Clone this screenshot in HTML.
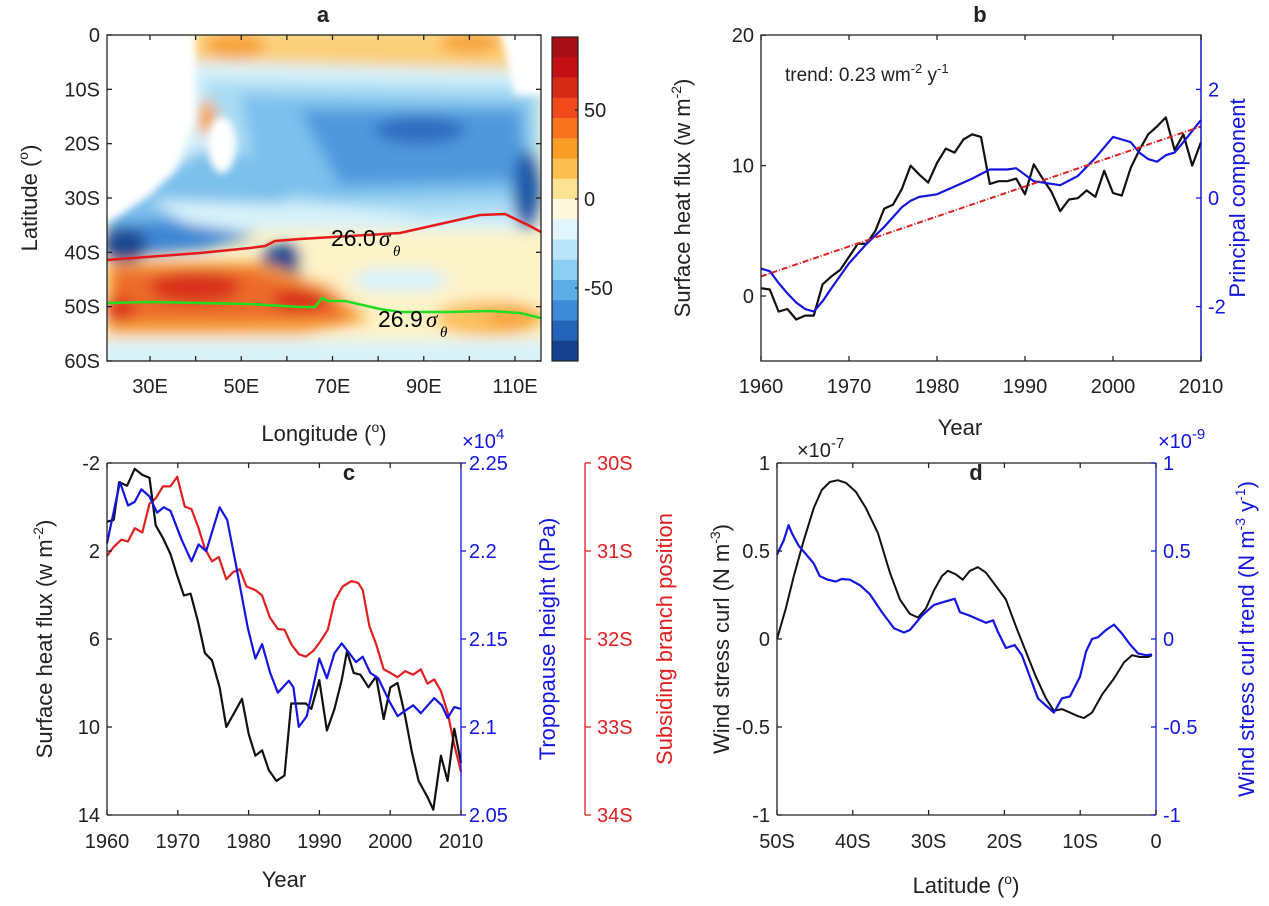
<!DOCTYPE html>
<html><head><meta charset="utf-8"><style>
body{margin:0;background:#fff}
svg{display:block;font-family:"Liberation Sans",Arial,sans-serif}
</style></head><body>
<svg id="s" width="1269" height="906" viewBox="0 0 1269 906" xmlns="http://www.w3.org/2000/svg">
<defs>
<clipPath id="ca"><rect x="107" y="35" width="434" height="326"/></clipPath>
<filter id="bl" x="-20%" y="-20%" width="140%" height="140%"><feGaussianBlur stdDeviation="7"/></filter>
<filter id="bl2" x="-20%" y="-20%" width="140%" height="140%"><feGaussianBlur stdDeviation="4"/></filter>
</defs>
<g clip-path="url(#ca)">
<rect x="107" y="35" width="434" height="326" fill="#fdf3c8"/>
<g filter="url(#bl)">
<rect x="190" y="30" width="330" height="45" fill="#fbcf78"/>
<ellipse cx="235" cy="45" rx="30" ry="14" fill="#f7a43c"/>
<ellipse cx="470" cy="42" rx="30" ry="12" fill="#f7a43c"/>
<path d="M150,60 L541,70 L541,230 L107,230 Z" fill="#d8f2fa"/>
<path d="M200,80 L541,85 L541,215 L330,220 L250,215 Z" fill="#a9dcf3"/>
<path d="M107,210 L200,150 L300,160 L280,215 L107,245 Z" fill="#7cc0ec"/>
<path d="M240,95 L530,100 L530,195 L330,200 L260,190 Z" fill="#7cc0ec"/>
<path d="M300,110 L520,110 L525,180 L340,185 Z" fill="#4f98dc"/>
<ellipse cx="420" cy="130" rx="45" ry="14" fill="#2d6cc0"/>
<ellipse cx="527" cy="190" rx="14" ry="40" fill="#1f58a8"/>
<path d="M150,200 L320,205 L420,215 L300,228 L200,232 Z" fill="#d8f2fa"/>
<path d="M107,225 L160,220 L260,235 L200,250 L107,258 Z" fill="#3d86d2"/>
<ellipse cx="125" cy="245" rx="22" ry="18" fill="#1a4890"/>
<ellipse cx="285" cy="262" rx="24" ry="18" fill="#1a4890"/>
<rect x="300" y="240" width="241" height="60" fill="#fdf3c8"/>
<ellipse cx="400" cy="280" rx="50" ry="12" fill="#d8f2fa"/>
<path d="M107,262 L260,262 L330,285 L370,320 L300,335 L107,335 Z" fill="#f7a43c"/>
<path d="M115,270 L250,268 L330,295 L350,320 L107,322 Z" fill="#ec6a2a"/>
<ellipse cx="195" cy="287" rx="45" ry="16" fill="#d8301e"/>
<ellipse cx="300" cy="300" rx="28" ry="12" fill="#d8301e"/>
<ellipse cx="120" cy="310" rx="15" ry="12" fill="#d8301e"/>
<ellipse cx="490" cy="318" rx="55" ry="18" fill="#fbbf5e"/>
<ellipse cx="510" cy="318" rx="25" ry="10" fill="#f7a43c"/>
<rect x="100" y="340" width="450" height="30" fill="#d8f2fa"/>
<ellipse cx="207" cy="118" rx="10" ry="18" fill="#f7a43c"/>
</g>
<g filter="url(#bl2)">
<path d="M100,30 L195,30 L195,120 L175,170 L150,195 L120,215 L100,225 Z" fill="#fff"/>
<ellipse cx="222" cy="145" rx="14" ry="28" fill="#fff"/>
<path d="M500,30 L545,30 L545,95 L515,95 Z" fill="#fff"/>
</g>
<polyline fill="none" stroke="#e41a1c" stroke-width="2.5" points="107,260 160,256 200,253 250,248 265,246 275,241 300,239 350,236 400,233 440,224 480,215 505,214 530,226 541,232"/>
<polyline fill="none" stroke="#22dd22" stroke-width="2.5" points="107,303 150,302 200,303 250,304 300,307 315,307 322,298 328,301 345,301 380,309 400,312 450,312 490,311 520,313 541,318"/>
</g>
<text x="331" y="246" font-size="23">26.0</text><text x="379" y="246" font-size="23" font-style="italic" font-family="Liberation Serif">σ</text><text x="393" y="256" font-size="15" font-style="italic" font-family="Liberation Serif">θ</text>
<text x="378" y="327" font-size="23">26.9</text><text x="426" y="327" font-size="23" font-style="italic" font-family="Liberation Serif">σ</text><text x="440" y="337" font-size="15" font-style="italic" font-family="Liberation Serif">θ</text>
<rect x="107" y="35" width="434" height="326" fill="none" stroke="#222" stroke-width="1.3"/>
<g id="cb"></g>
<g id="g"></g>
</svg>
<script>
var S=document.getElementById('g'),NS='http://www.w3.org/2000/svg';
var TF=20,LF=22;
function el(t,a,txt){var e=document.createElementNS(NS,t);for(var k in a)e.setAttribute(k,a[k]);if(txt!==undefined)e.textContent=txt;S.appendChild(e);return e;}
function line(x1,y1,x2,y2,c,w){return el('line',{x1:x1,y1:y1,x2:x2,y2:y2,stroke:c||'#222','stroke-width':w||1.3});}
function txt(x,y,s,o){o=o||{};var a={x:x,y:y,'font-size':o.fs||TF,fill:o.c||'#222','text-anchor':o.a||'middle'};if(o.b)a['font-weight']='bold';if(o.r)a.transform='rotate(-90 '+x+' '+y+')';return el('text',a,s);}
function rich(x,y,parts,o){o=o||{};var a={x:x,y:y,'font-size':o.fs||LF,fill:o.c||'#222','text-anchor':'middle'};if(o.r)a.transform='rotate(-90 '+x+' '+y+')';var t=el('text',a);parts.forEach(function(p){var s=document.createElementNS(NS,'tspan');s.textContent=p[0];if(p[1]){s.setAttribute('dy',p[1]);}if(p[2])s.setAttribute('font-size',p[2]);t.appendChild(s);});return t;}
function pl(pts,c,w,extra){var a={points:pts.map(function(p){return p[0].toFixed(1)+','+p[1].toFixed(1)}).join(' '),fill:'none',stroke:c,'stroke-width':w||2.2,'stroke-linejoin':'round'};for(var k in extra)a[k]=extra[k];el('polyline',a);}
var cols=['#a50f15','#c40f15','#d62a17','#f04a1c','#f7731e','#f99d26','#fbbf4f','#fde294','#fff8dc','#e0f6fc','#b8e6f8','#8ccff3','#5eaee6','#3d8ad6','#2464b8','#163f8c'];
var cb=document.getElementById('cb');
for(var i=0;i<16;i++){var r=document.createElementNS(NS,'rect');r.setAttribute('x',552);r.setAttribute('y',37+i*324/16);r.setAttribute('width',26);r.setAttribute('height',324/16+0.5);r.setAttribute('fill',cols[i]);cb.appendChild(r);}
el('rect',{x:552,y:37,width:26,height:324,fill:'none',stroke:'#222','stroke-width':1.2});
[[50,110],[0,199],[-50,288]].forEach(function(t){line(575,t[1],578,t[1]);txt(584,t[1]+7,String(t[0]),{a:'start'});});
var ya=function(l){return 35+l*5.433};
['0','10S','20S','30S','40S','50S','60S'].forEach(function(s,i){var y=ya(i*10);line(107,y,112,y);line(541,y,536,y);txt(100,y+7,s,{a:'end'});});
for(var lon=30;lon<=110;lon+=10){var x=150+4.5625*(lon-30);line(x,361,x,356);line(x,35,x,40);if(lon%20==10)txt(x,393,lon+'E');}
txt(323,22,'a',{b:1,fs:22});
rich(324,441,[['Longitude ('],['o','-9',14],[')','9']]);
rich(37,198,[['Latitude ('],['o','-9',14],[')','9']],{r:1});
var xb=function(y){return 761+8.8*(y-1960)},yb=function(v){return 296-13.04*v};
var bk=[0.6,0.5,-1.2,-1.0,-1.8,-1.5,-1.5,0.9,1.5,2.0,3.0,4.0,4.0,5.0,6.7,7.0,8.2,10.0,9.3,8.7,10.2,11.3,11.0,12.0,12.4,12.2,8.6,8.8,8.8,9.0,7.8,10.1,9.0,8.0,6.5,7.4,7.5,8.1,7.6,9.6,7.9,7.7,9.8,11.2,12.4,13.0,13.7,11.2,12.4,10.0,11.8];
pl(bk.map(function(v,i){return [xb(1960+i),yb(v)]}),'#111');
var bb=[[1960,2.1],[1961,1.9],[1962,1.0],[1963,0.2],[1964,-0.5],[1965,-1.0],[1966,-1.2],[1967,-0.4],[1968,0.6],[1970,2.5],[1972,4.0],[1974,5.3],[1976,6.8],[1977,7.3],[1978,7.6],[1980,7.8],[1982,8.4],[1984,9.0],[1986,9.7],[1988,9.7],[1989,9.8],[1990,9.3],[1991,8.8],[1992,8.7],[1994,8.5],[1996,9.2],[1998,10.6],[2000,12.2],[2001,12.0],[2002,11.8],[2003,11.0],[2004,10.5],[2005,10.3],[2006,10.8],[2007,11.0],[2008,11.8],[2010,13.5]];
pl(bb.map(function(p){return [xb(p[0]),yb(p[1])]}),'#1515e0');
line(xb(1960),yb(1.5),xb(2010),yb(13.0),'#e02020',2).setAttribute('stroke-dasharray','6,2,1,2');
el('rect',{x:761,y:35,width:440,height:326,fill:'none',stroke:'#222','stroke-width':1.3});
line(1201,35,1201,361,'#1515e0',1.3);
[[20],[10],[0]].forEach(function(t){var y=yb(t[0]);line(761,y,766,y);txt(754,y+7,String(t[0]),{a:'end'});});
[[2],[0],[-2]].forEach(function(t){var y=198-54.3*t[0];line(1201,y,1196,y,'#1515e0');txt(1208,y+7,String(t[0]),{a:'start',c:'#1515e0'});});
for(var yr=1960;yr<=2010;yr+=10){var x=xb(yr);line(x,361,x,356);line(x,35,x,40);txt(x,393,String(yr));}
txt(980,22,'b',{b:1,fs:22});
txt(960,435,'Year',{fs:LF});
rich(785,81,[['trend: 0.23 wm'],['-2','-8',13],[' y','8'],['-1','-8',13]],{fs:19}).setAttribute('text-anchor','start');
rich(690,198,[['Surface heat flux (w m'],['-2','-9',14],[')','9']],{r:1});
rich(1245,198,[['Principal component']],{r:1,c:'#1515e0'});
function zc(p){return [107+(p[0]-243)*0.447,463+(p[1]-117)*0.36];}
var cr=[[243,375],[258,350],[275,330],[290,335],[305,298],[322,310],[338,230],[352,215],[368,182],[385,182],[400,155],[417,238],[432,245],[447,295],[462,355],[478,390],[493,378],[510,440],[525,420],[540,412],[555,460],[575,470],[590,485],[607,545],[625,578],[640,580],[655,620],[672,648],[688,655],[705,638],[720,613],[737,580],[752,500],[770,460],[790,445],[805,450],[815,470],[830,570],[845,620],[862,690],[877,700],[893,712],[910,695],[928,705],[945,690],[960,730],[975,718],[990,750],[1005,810],[1020,900],[1035,975]];
var cbk=[[243,280],[258,275],[270,170],[288,180],[305,133],[322,150],[338,158],[352,290],[368,325],[385,370],[400,430],[415,485],[430,480],[447,560],[462,645],[478,665],[495,740],[510,850],[528,810],[545,772],[560,870],[575,930],[590,915],[605,970],[622,1000],[640,985],[655,785],[670,785],[688,785],[700,800],[718,720],[735,860],[752,800],[768,720],[780,640],[795,700],[810,705],[828,740],[845,710],[862,828],[877,740],[893,728],[910,820],[925,920],[940,1000],[960,1045],[973,1080],[990,930],[1005,1000],[1020,855],[1035,950]];
var cbl=[[243,340],[272,170],[290,235],[305,225],[320,190],[338,210],[355,255],[370,240],[385,250],[410,330],[432,390],[448,343],[465,362],[495,240],[512,275],[530,390],[558,575],[575,660],[590,620],[608,700],[625,755],[650,722],[660,740],[672,850],[690,820],[718,660],[735,715],[752,645],[768,618],[785,645],[800,670],[815,655],[832,700],[850,715],[875,780],[893,820],[910,805],[928,790],[945,812],[975,770],[992,790],[1005,825],[1020,795],[1035,800]];
pl(cr.map(zc),'#e02020');pl(cbk.map(zc),'#111');pl(cbl.map(zc),'#1515e0');
line(107,463,461,463);line(107,463,107,815);line(107,815,461,815);line(461,463,461,815,'#1515e0');
line(585,463,585,815,'#e02020');
[-2,2,6,10,14].forEach(function(v){var y=463+22*(v+2);line(107,y,112,y);txt(100,y+7,String(v),{a:'end'});});
['2.25','2.2','2.15','2.1','2.05'].forEach(function(s,i){var y=463+88*i;line(461,y,466,y,'#1515e0');txt(469,y+7,s,{a:'start',c:'#1515e0'});});
['30S','31S','32S','33S','34S'].forEach(function(s,i){var y=463+88*i;line(585,y,591,y,'#e02020');txt(597,y+7,s,{a:'start',c:'#e02020'});});
for(var yr=1960;yr<=2010;yr+=10){var x=107+7.08*(yr-1960);line(x,815,x,810);line(x,463,x,468);txt(x,848,String(yr));}
txt(349,480,'c',{b:1,fs:22});
txt(284,887,'Year',{fs:LF});
rich(462,448,[['×10'],['4','-9',15]],{c:'#1515e0',fs:20}).setAttribute('text-anchor','start');
rich(52,639,[['Surface heat flux (w m'],['-2','-9',14],[')','9']],{r:1});
rich(555,639,[['Tropopause height (hPa)']],{r:1,c:'#1515e0'});
rich(672,639,[['Subsiding branch position']],{r:1,c:'#e02020'});
function zd(p){return [777+(p[0]-318)*0.4002,463+(p[1]-115)*0.3592];}
var dbk=[[318,605],[340,520],[360,430],[385,330],[410,240],[430,190],[450,168],[470,163],[490,170],[515,195],[540,240],[570,310],[600,420],[625,495],[650,535],[670,545],[690,520],[710,470],[730,430],[745,415],[765,425],[782,440],[800,415],[820,405],[840,420],[860,450],[890,495],[915,570],[940,640],[965,710],[990,770],[1010,805],[1030,800],[1050,810],[1070,820],[1085,825],[1105,810],[1130,760],[1160,715],[1185,670],[1205,650],[1225,655],[1245,655],[1255,650]];
var dbl=[[318,370],[335,330],[347,288],[355,310],[372,345],[395,375],[410,395],[425,430],[445,440],[465,445],[480,438],[500,440],[525,455],[550,480],[580,530],[610,575],[635,587],[650,580],[680,540],[710,510],[740,500],[762,493],[775,530],[800,540],[830,555],[840,560],[858,553],[870,585],[890,630],[912,622],[930,650],[950,710],[970,770],[990,790],[1010,810],[1030,770],[1050,765],[1075,710],[1090,640],[1105,605],[1120,600],[1140,580],[1160,565],[1180,590],[1200,620],[1220,645],[1240,650],[1255,648]];
pl(dbk.map(zd),'#111',2);pl(dbl.map(zd),'#1515e0',2.2);
line(777,463,1156,463);line(777,463,777,815);line(777,815,1156,815);line(1156,463,1156,815,'#1515e0');
[['1',1],['0.5',.5],['0',0],['-0.5',-.5],['-1',-1]].forEach(function(t){var y=639-176*t[1];line(777,y,782,y);txt(770,y+7,t[0],{a:'end'});line(1156,y,1151,y,'#1515e0');txt(1163,y+7,t[0],{a:'start',c:'#1515e0'});});
['50S','40S','30S','20S','10S','0'].forEach(function(s,i){var x=777+75.8*i;line(x,815,x,810);line(x,463,x,468);txt(x,848,s);});
txt(976,480,'d',{b:1,fs:22});
rich(966,893,[['Latitude ('],['o','-9',14],[')','9']]);
rich(797,457,[['×10'],['-7','-9',15]],{fs:20}).setAttribute('text-anchor','start');
rich(1158,448,[['×10'],['-9','-9',15]],{fs:20,c:'#1515e0'}).setAttribute('text-anchor','start');
rich(729,639,[['Wind stress curl (N m'],['-3','-9',14],[')','9']],{r:1});
rich(1254,639,[['Wind stress curl trend (N m'],['-3','-9',14],[' y','9'],['-1','-9',14],[')','9']],{r:1,c:'#1515e0'});
</script>
</body></html>
